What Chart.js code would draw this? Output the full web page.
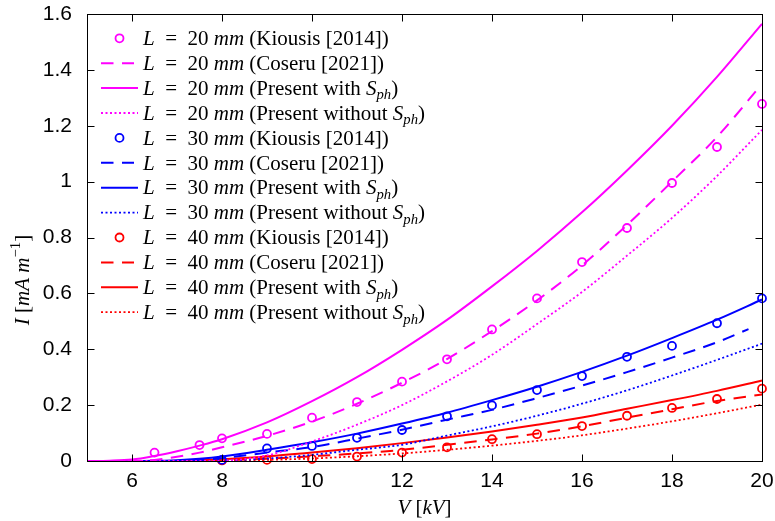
<!DOCTYPE html>
<html>
<head>
<meta charset="utf-8">
<script src="https://cdn.jsdelivr.net/npm/chart.js@4.4.1/dist/chart.umd.min.js"></script>
<style>
  html, body { margin: 0; padding: 0; background: #fff; }
  #wrap { width: 775px; height: 521px; }
</style>
</head>
<body>
<div id="wrap"><canvas id="chart"></canvas></div>
<script>
// ---- data (V in kV, I in mA/m) ----
const xTicks = [6, 8, 10, 12, 14, 16, 18, 20];
const yTicks = [0, 0.2, 0.4, 0.6, 0.8, 1, 1.2, 1.4, 1.6];
const yTickLabels = ['0', '0.2', '0.4', '0.6', '0.8', '1', '1.2', '1.4', '1.6'];

// common voltage grid for the "Present" curves
const vGrid = [5, 5.5, 6, 6.5, 7, 7.5, 8, 9, 10, 11, 12, 13, 14, 15, 16, 17, 18, 19, 20];

// L = 20 mm
const kiousis20V = [6.5, 7.5, 8, 9, 10, 11, 12, 13, 14, 15, 16, 17, 18, 19, 20];
const kiousis20I = [0.030, 0.057, 0.081, 0.097, 0.155, 0.211, 0.284, 0.364, 0.471, 0.582, 0.712, 0.834, 0.995, 1.124, 1.278];
const coseru20V = [5, 6, 6.5, 7, 7.5, 8, 9, 10, 11, 12, 13, 14, 15, 16, 17, 18, 19, 19.96];
const coseru20I = [0, 0, 0.004, 0.015, 0.030, 0.049, 0.090, 0.141, 0.205, 0.280, 0.365, 0.465, 0.575, 0.700, 0.845, 1.000, 1.160, 1.342];
const with20I = [0, 0.001, 0.005, 0.018, 0.035, 0.055, 0.078, 0.138, 0.214, 0.300, 0.398, 0.505, 0.625, 0.752, 0.890, 1.040, 1.200, 1.375, 1.565];
const without20I = [0, 0, 0, 0, 0, 0, 0.001, 0.020, 0.070, 0.130, 0.200, 0.285, 0.380, 0.490, 0.605, 0.735, 0.870, 1.020, 1.185];

// L = 30 mm
const kiousis30V = [8, 9, 10, 11, 12, 13, 14, 15, 16, 17, 18, 19, 20];
const kiousis30I = [0.004, 0.045, 0.054, 0.083, 0.111, 0.160, 0.199, 0.254, 0.304, 0.373, 0.412, 0.493, 0.582];
const coseru30V = [5, 7, 7.5, 8, 9, 10, 11, 12, 13, 14, 15, 16, 17, 18, 19, 19.7];
const coseru30I = [0, 0, 0.003, 0.010, 0.030, 0.050, 0.080, 0.112, 0.148, 0.183, 0.225, 0.270, 0.318, 0.370, 0.425, 0.472];
const with30I = [0, 0, 0, 0.001, 0.003, 0.008, 0.016, 0.040, 0.067, 0.098, 0.134, 0.173, 0.218, 0.266, 0.319, 0.377, 0.440, 0.506, 0.578];
const without30I = [0, 0, 0, 0, 0, 0, 0.001, 0.009, 0.022, 0.040, 0.058, 0.091, 0.124, 0.162, 0.205, 0.253, 0.306, 0.362, 0.420];

// L = 40 mm
const kiousis40V = [8, 9, 10, 11, 12, 13, 14, 15, 16, 17, 18, 19, 20];
const kiousis40I = [0.002, 0.004, 0.007, 0.016, 0.030, 0.049, 0.078, 0.096, 0.125, 0.162, 0.190, 0.222, 0.259];
const coseru40I = [0, 0, 0, 0, 0, 0, 0.002, 0.008, 0.017, 0.027, 0.040, 0.058, 0.077, 0.098, 0.124, 0.155, 0.185, 0.215, 0.238];
const with40I = [0, 0, 0, 0, 0.001, 0.003, 0.006, 0.016, 0.030, 0.046, 0.064, 0.084, 0.106, 0.130, 0.156, 0.187, 0.218, 0.251, 0.288];
const without40I = [0, 0, 0, 0, 0, 0, 0.001, 0.004, 0.009, 0.017, 0.027, 0.040, 0.055, 0.072, 0.092, 0.116, 0.142, 0.171, 0.202];

const MAGENTA = '#ff00ff', BLUE = '#0000ff', RED = '#ff0000';
const DASH = [12.5, 8.5];
const DOT = [2, 2.5];
const SERIF = '"Liberation Serif", "Times New Roman", serif';
const SANS = '"Liberation Sans", Arial, sans-serif';
const EQ = '\u2002=\u2002';   // math spacing around "="

const pts = (xs, ys) => xs.map((x, i) => ({ x: x, y: ys[i] }));

function marks(label, color, xs, ys) {
    return { label, data: pts(xs, ys), borderColor: color, backgroundColor: 'transparent',
             showLine: false, pointRadius: 4, pointBorderWidth: 1.8, pointHoverRadius: 4, clip: false };
}
function curve(label, color, xs, ys, dash) {
    return { label, data: pts(xs, ys), borderColor: color, backgroundColor: 'transparent',
             borderWidth: dash === DOT ? 1.8 : 2, borderDash: dash || [], pointRadius: 0,
             cubicInterpolationMode: 'monotone', clip: false };
}

// $..$ -> italic, ^{..} superscript, _{..} subscript
function parseRich(str) {
    const out = [];
    let it = false, buf = '', i = 0;
    const push = (t, shift) => { if (t) out.push({ t, it, shift }); };
    while (i < str.length) {
        const c = str[i];
        if (c === '$') { push(buf, 0); buf = ''; it = !it; i++; }
        else if ((c === '^' || c === '_') && str[i + 1] === '{') {
            push(buf, 0); buf = '';
            const j = str.indexOf('}', i);
            push(str.slice(i + 2, j), c === '^' ? -1 : 1);
            i = j + 1;
        } else { buf += c; i++; }
    }
    push(buf, 0);
    return out;
}
function richText(ctx, str, x, y, size, draw) {
    for (const seg of parseRich(str)) {
        const fs = seg.shift ? size * 0.7 : size;
        ctx.font = (seg.it ? 'italic ' : '') + fs + 'px ' + SERIF;
        const dy = seg.shift === -1 ? -size * 0.42 : seg.shift === 1 ? size * 0.22 : 0;
        if (draw) ctx.fillText(seg.t, x, y + dy);
        x += ctx.measureText(seg.t).width;
    }
    return x;
}

// box with inward ticks on all four sides, axis titles, legend
const decorPlugin = {
    id: 'decor',
    afterDatasetsDraw(chart) {
        const { ctx, chartArea: a, scales } = chart;
        const L = Math.round(a.left) + 0.5, R = Math.round(a.right) + 0.5;
        const T = Math.round(a.top) + 0.5, B = Math.round(a.bottom) + 0.5;
        const tick = 7;
        ctx.save();
        ctx.strokeStyle = '#000';
        ctx.lineWidth = 1;
        ctx.setLineDash([]);
        ctx.strokeRect(L, T, R - L, B - T);
        ctx.beginPath();
        xTicks.forEach(v => {
            const px = Math.round(scales.x.getPixelForValue(v)) + 0.5;
            ctx.moveTo(px, B); ctx.lineTo(px, B - tick);
            ctx.moveTo(px, T); ctx.lineTo(px, T + tick);
        });
        yTicks.forEach(v => {
            const py = Math.round(scales.y.getPixelForValue(v)) + 0.5;
            ctx.moveTo(L, py); ctx.lineTo(L + tick, py);
            ctx.moveTo(R, py); ctx.lineTo(R - tick, py);
        });
        ctx.stroke();

        // axis titles
        ctx.fillStyle = '#000';
        ctx.textBaseline = 'alphabetic';
        ctx.textAlign = 'left';
        const size = 21;
        const xt = '$V$ [$kV$]';
        const xw = richText(ctx, xt, 0, 0, size, false);
        richText(ctx, xt, (a.left + a.right) / 2 - xw / 2, 514, size, true);
        const yt = '$I$ [$mA m$^{−1}]';
        const yw = richText(ctx, yt, 0, 0, size, false);
        ctx.save();
        ctx.translate(29, 280);
        ctx.rotate(-Math.PI / 2);
        richText(ctx, yt, -yw / 2, 0, size, true);
        ctx.restore();

        // legend
        const x0 = 101, x1 = 138, tx = 143, y0 = 38.3, dy = 24.9;
        chart.data.datasets.forEach((ds, i) => {
            const y = y0 + i * dy;
            ctx.strokeStyle = ds.borderColor;
            if (ds.showLine === false) {
                ctx.lineWidth = ds.pointBorderWidth;
                ctx.setLineDash([]);
                ctx.beginPath();
                ctx.arc((x0 + x1) / 2, y, ds.pointRadius, 0, Math.PI * 2);
                ctx.stroke();
            } else {
                ctx.lineWidth = ds.borderWidth;
                ctx.setLineDash(ds.borderDash);
                ctx.beginPath();
                ctx.moveTo(x0, y);
                ctx.lineTo(ds.borderDash === DASH ? 134 : x1, y);
                ctx.stroke();
            }
            ctx.setLineDash([]);
            ctx.fillStyle = '#000';
            richText(ctx, ds.label, tx, y + 6.7, size, true);
        });
        ctx.restore();
    }
};

const datasets = [
    marks('$L$' + EQ + '20 $mm$ (Kiousis [2014])', MAGENTA, kiousis20V, kiousis20I),
    curve('$L$' + EQ + '20 $mm$ (Coseru [2021])', MAGENTA, coseru20V, coseru20I, DASH),
    curve('$L$' + EQ + '20 $mm$ (Present with $S_{ph}$)', MAGENTA, vGrid, with20I),
    curve('$L$' + EQ + '20 $mm$ (Present without $S_{ph}$)', MAGENTA, vGrid, without20I, DOT),
    marks('$L$' + EQ + '30 $mm$ (Kiousis [2014])', BLUE, kiousis30V, kiousis30I),
    curve('$L$' + EQ + '30 $mm$ (Coseru [2021])', BLUE, coseru30V, coseru30I, DASH),
    curve('$L$' + EQ + '30 $mm$ (Present with $S_{ph}$)', BLUE, vGrid, with30I),
    curve('$L$' + EQ + '30 $mm$ (Present without $S_{ph}$)', BLUE, vGrid, without30I, DOT),
    marks('$L$' + EQ + '40 $mm$ (Kiousis [2014])', RED, kiousis40V, kiousis40I),
    curve('$L$' + EQ + '40 $mm$ (Coseru [2021])', RED, vGrid, coseru40I, DASH),
    curve('$L$' + EQ + '40 $mm$ (Present with $S_{ph}$)', RED, vGrid, with40I),
    curve('$L$' + EQ + '40 $mm$ (Present without $S_{ph}$)', RED, vGrid, without40I, DOT)
];

new Chart(document.getElementById('chart'), {
    type: 'line',
    data: { datasets },
    options: {
        responsive: true,
        maintainAspectRatio: false,
        animation: false,
        layout: { padding: { top: 14, right: 13, left: 0, bottom: 0 } },
        plugins: { legend: { display: false }, tooltip: { enabled: false } },
        scales: {
            x: {
                type: 'linear', min: 5, max: 20,
                afterBuildTicks: s => { s.ticks = xTicks.map(v => ({ value: v })); },
                afterFit: s => { s.height = 60; s.paddingLeft = 0; s.paddingRight = 0; },
                grid: { display: false, drawTicks: false },
                border: { display: false },
                ticks: { color: '#000', padding: 8, maxRotation: 0, font: { family: SANS, size: 21 } }
            },
            y: {
                type: 'linear', min: 0, max: 1.6,
                afterBuildTicks: s => { s.ticks = yTicks.map(v => ({ value: v })); },
                afterFit: s => { s.width = 87; s.paddingTop = 0; s.paddingBottom = 0; },
                grid: { display: false, drawTicks: false },
                border: { display: false },
                ticks: { color: '#000', padding: 15, font: { family: SANS, size: 21 },
                         callback: (v, i) => yTickLabels[i] }
            }
        }
    },
    plugins: [decorPlugin]
});
</script>
</body>
</html>
